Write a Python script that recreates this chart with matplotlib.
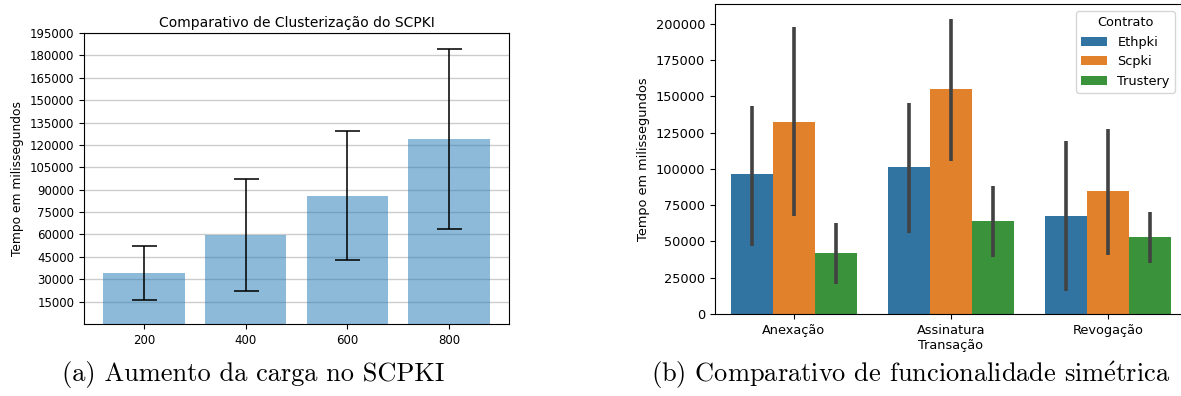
import numpy as np
import matplotlib
matplotlib.use("Agg")
import matplotlib.pyplot as plt
from matplotlib.patches import Patch

# ---- (a) load increase on SCPKI ----
carga = ["200", "400", "600", "800"]
tempo_medio = [34200, 59800, 85900, 123800]
tempo_erro = [18400, 37600, 43300, 60200]
ticks_a = list(range(15000, 195001, 15000))

# ---- (b) symmetric functionality comparison ----
transacoes = ["Anexação", "Assinatura", "Revogação"]
contratos = ["Ethpki", "Scpki", "Trustery"]
media = {
    "Ethpki":   [96300, 101200, 67700],
    "Scpki":    [132300, 155000, 84700],
    "Trustery": [42300, 63800, 53000],
}
ci_baixo = {
    "Ethpki":   [46600, 55800, 15900],
    "Scpki":    [67400, 105500, 40800],
    "Trustery": [20500, 39000, 35000],
}
ci_alto = {
    "Ethpki":   [143300, 145400, 119200],
    "Scpki":    [197500, 203400, 127300],
    "Trustery": [62700, 88100, 70400],
}
cores = {"Ethpki": "#3274a1", "Scpki": "#e1812c", "Trustery": "#3a923a"}

plt.rcParams["mathtext.fontset"] = "cm"

fig = plt.figure(figsize=(11.81, 3.96), dpi=100)

# left panel
axA = fig.add_axes([84 / 1181, 72 / 396, 425 / 1181, 291 / 396])
x = np.arange(len(carga))
axA.bar(x, tempo_medio, width=0.8, color="#1f77b4", alpha=0.5, zorder=2)
axA.errorbar(x, tempo_medio, yerr=tempo_erro, fmt="none", ecolor="black",
             elinewidth=1.4, capsize=9, capthick=1.4, alpha=0.8, zorder=3)
axA.set_xticks(x)
axA.set_xticklabels(carga, fontsize=8.5)
axA.set_yticks(ticks_a)
axA.tick_params(axis="y", labelsize=8.5)
axA.set_ylim(0, 195000)
axA.yaxis.grid(True, color="#cccccc", linewidth=1.0, zorder=0)
axA.set_axisbelow(True)
axA.set_title("Comparativo de Clusterização do SCPKI", fontsize=10, pad=4)
axA.set_ylabel("Tempo em milissegundos", fontsize=8.8)

# right panel
axB = fig.add_axes([715 / 1181, 82 / 396, 472 / 1181, 310 / 396])
xb = np.arange(len(transacoes))
w = 0.8 / len(contratos)
for i, c in enumerate(contratos):
    pos = xb + (i - 1) * w
    axB.bar(pos, media[c], width=w, color=cores[c], zorder=2)
    axB.vlines(pos, ci_baixo[c], ci_alto[c], color="#424242", linewidth=2.6, zorder=3)
axB.set_xlim(-0.5, 2.5)
axB.set_ylim(0, 213500)
axB.set_yticks(range(0, 200001, 25000))
axB.set_xticks(xb)
axB.set_xticklabels(transacoes, fontsize=9.3)
axB.tick_params(axis="y", labelsize=9.3)
axB.set_xlabel("Transação", fontsize=9.3, labelpad=2)
axB.set_ylabel("Tempo em milissegundos", fontsize=9.3)
handles = [Patch(facecolor=cores[c], label=c) for c in contratos]
axB.legend(handles=handles, title="Contrato", fontsize=9.3, title_fontsize=9.3,
           loc="upper right", bbox_to_anchor=(1175 / 1181, 1 - 11 / 396),
           bbox_transform=fig.transFigure, borderaxespad=0)

# subfigure captions
fig.text(253 / 1181, 1 - 375 / 396, "(a) Aumento da carga no SCPKI",
         family="cmr10", fontsize=19, ha="center", va="center")
fig.text(911 / 1181, 1 - 375 / 396,
         r"(b) Comparativo de funcionalidade sim$\mathrm{\acute{e}}$trica",
         family="cmr10", fontsize=19, ha="center", va="center")

fig.savefig("out.png", dpi=100)
